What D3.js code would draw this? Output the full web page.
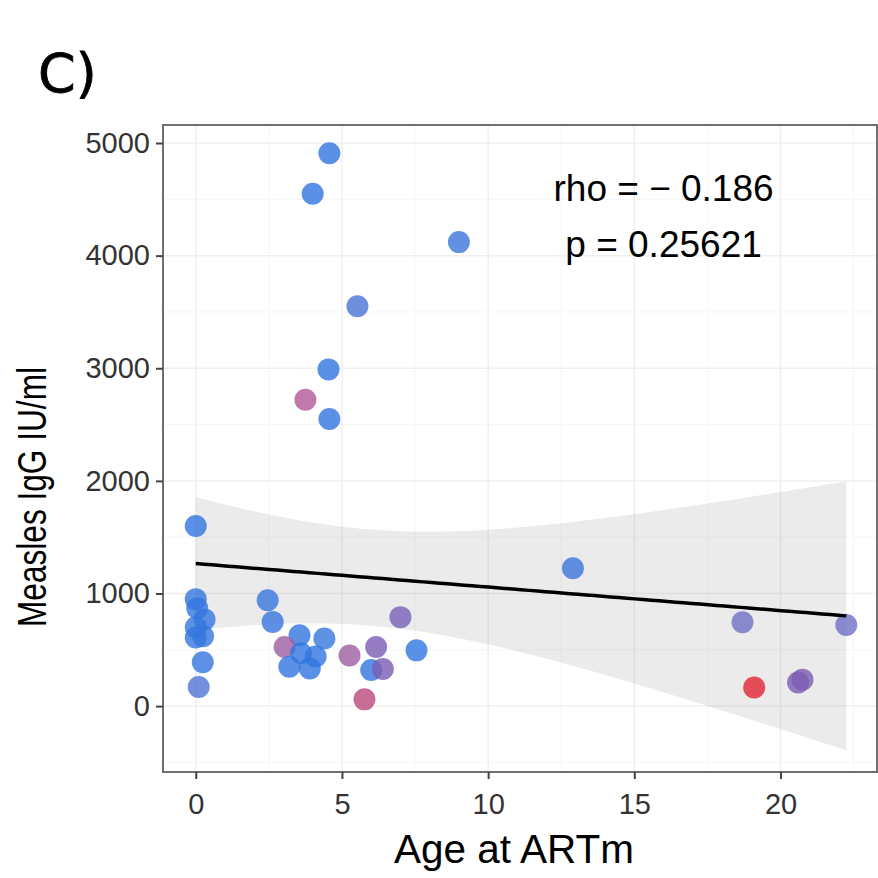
<!DOCTYPE html>
<html>
<head>
<meta charset="utf-8">
<script src="https://cdn.jsdelivr.net/npm/d3@7"></script>
<style>
  html, body { margin: 0; padding: 0; background: #fff; }
  svg { display: block; font-family: "Liberation Sans", Arial, Helvetica, sans-serif; }
</style>
</head>
<body>
<svg id="chart" width="878" height="878"></svg>
<script>
// ---- data ----
const ageART = [0, 4.57, 4.0, 9.0, 5.53, 4.54, 3.75, 4.57, 12.9, 18.7, 22.25, 19.1, 20.6, 20.75,
  0, 0.05, 0.3, 0, 0.25, 0, 0.24, 0.1,
  2.46, 2.63, 3.55, 4.4, 3.04, 3.6, 4.1, 3.2, 3.9, 5.26, 6.17, 6.0, 6.4, 7.0, 7.55, 5.77];
const measlesIgG = [1600, 4910, 4550, 4120, 3550, 2990, 2720, 2550, 1225, 745, 720, 165, 210, 235,
  950, 870, 770, 700, 620, 610, 390, 170,
  940, 748, 630, 600, 525, 470, 440, 350, 335, 450, 525, 320, 330, 790, 495, 60];
const colourVar = [0, 0, 0, 0.05, 0.12, 0, 0.62, 0, 0.05, 0.3, 0.3, 1.0, 0.45, 0.45,
  0.02, 0.02, 0.02, 0.02, 0.02, 0.02, 0.02, 0.15,
  0.03, 0.03, 0, 0.03, 0.55, 0, 0, 0, 0, 0.55, 0.45, 0, 0.45, 0.42, 0, 0.7];
const xTicks = [0, 5, 10, 15, 20];
const yTicks = [0, 1000, 2000, 3000, 4000, 5000];
const xMinor = [2.5, 7.5, 12.5, 17.5, 22.5];
const yMinor = [-500, 500, 1500, 2500, 3500, 4500];
const xDomain = [-1.12, 23.3];
const yDomain = [-585, 5160];
const annotation = ["rho = \u2212 0.186", "p = 0.25621"];
const annotationX = [16, 16];
const annotationY = [4600, 4100];
const panelLabel = "C)";
const xTitle = "Age at ARTm";
const yTitle = "Measles IgG IU/ml";
const tCrit = 2.0281; // t quantile 0.975, df = n - 2 = 36

// ---- layout / style ----
const svg = d3.select("#chart");
const L = 163, R = 877, T = 125, B = 772;
const x = d3.scaleLinear().domain(xDomain).range([L, R]);
const y = d3.scaleLinear().domain(yDomain).range([B, T]);
const col = d3.scaleLinear()
  .domain([0, 0.3, 0.45, 0.6, 0.7, 1])
  .range(["#3176e0", "#6f6fc7", "#7c5cb4", "#ae5c9b", "#ba4a7c", "#e22433"]);

const pts = ageART.map((a, i) => ({x: a, y: measlesIgG[i], c: colourVar[i]}));

// grid
const g = svg.append("g");
g.selectAll(".gminx").data(xMinor.filter(v => v > xDomain[0] && v < xDomain[1])).join("line")
  .attr("x1", d => x(d)).attr("x2", d => x(d)).attr("y1", T).attr("y2", B)
  .attr("stroke", "#f6f6f6").attr("stroke-width", 1);
g.selectAll(".gminy").data(yMinor.filter(v => v > yDomain[0] && v < yDomain[1])).join("line")
  .attr("y1", d => y(d)).attr("y2", d => y(d)).attr("x1", L).attr("x2", R)
  .attr("stroke", "#f6f6f6").attr("stroke-width", 1);
g.selectAll(".gmajx").data(xTicks).join("line")
  .attr("x1", d => x(d)).attr("x2", d => x(d)).attr("y1", T).attr("y2", B)
  .attr("stroke", "#efefef").attr("stroke-width", 1.5);
g.selectAll(".gmajy").data(yTicks).join("line")
  .attr("y1", d => y(d)).attr("y2", d => y(d)).attr("x1", L).attr("x2", R)
  .attr("stroke", "#efefef").attr("stroke-width", 1.5);

// linear fit + 95% CI
const n = pts.length;
const mx = d3.mean(pts, d => d.x), my = d3.mean(pts, d => d.y);
const sxx = d3.sum(pts, d => (d.x - mx) ** 2);
const sxy = d3.sum(pts, d => (d.x - mx) * (d.y - my));
const slope = sxy / sxx, icpt = my - slope * mx;
const sse = d3.sum(pts, d => (d.y - (icpt + slope * d.x)) ** 2);
const s = Math.sqrt(sse / (n - 2));
const xmin = d3.min(pts, d => d.x), xmax = d3.max(pts, d => d.x);
const grid = d3.range(0, 81).map(k => xmin + (xmax - xmin) * k / 80);
const band = grid.map(xv => {
  const fit = icpt + slope * xv;
  const se = s * Math.sqrt(1 / n + (xv - mx) ** 2 / sxx);
  return {x: xv, fit, lo: fit - tCrit * se, hi: fit + tCrit * se};
});
svg.append("path").datum(band)
  .attr("d", d3.area().x(d => x(d.x)).y0(d => y(d.lo)).y1(d => y(d.hi)))
  .attr("fill", "#999999").attr("fill-opacity", 0.2);

// points
svg.append("g").selectAll("circle").data(pts).join("circle")
  .attr("cx", d => x(d.x)).attr("cy", d => y(d.y)).attr("r", 11)
  .attr("fill", d => col(d.c)).attr("fill-opacity", 0.8);

// fit line
svg.append("path").datum(band)
  .attr("d", d3.line().x(d => x(d.x)).y(d => y(d.fit)))
  .attr("fill", "none").attr("stroke", "#000").attr("stroke-width", 3.5);

// annotation
svg.append("g").selectAll("text").data(annotation).join("text")
  .attr("x", (d, i) => x(annotationX[i])).attr("y", (d, i) => y(annotationY[i]))
  .attr("dy", "0.35em").attr("text-anchor", "middle")
  .attr("font-size", 37).attr("fill", "#000").text(d => d);

// panel border
svg.append("rect").attr("x", L).attr("y", T).attr("width", R - L).attr("height", B - T)
  .attr("fill", "none").attr("stroke", "#6f6f6f").attr("stroke-width", 2);

// axes
const xAxis = svg.append("g").attr("transform", `translate(0,${B})`)
  .call(d3.axisBottom(x).tickValues(xTicks).tickSize(7).tickPadding(14).tickFormat(d3.format("d")));
const yAxis = svg.append("g").attr("transform", `translate(${L},0)`)
  .call(d3.axisLeft(y).tickValues(yTicks).tickSize(7).tickPadding(6).tickFormat(d3.format("d")));
[xAxis, yAxis].forEach(a => {
  a.select(".domain").remove();
  a.selectAll(".tick line").attr("stroke", "#444").attr("stroke-width", 2);
  a.selectAll(".tick text").attr("fill", "#333").attr("font-size", 29)
    .attr("font-family", "'Liberation Sans', Arial, sans-serif");
});

// titles
svg.append("text").attr("x", 514).attr("y", 863).attr("text-anchor", "middle")
  .attr("font-size", 40).attr("fill", "#000")
  .attr("textLength", 240).attr("lengthAdjust", "spacingAndGlyphs").text(xTitle);
svg.append("text").attr("transform", `translate(46,497) rotate(-90)`)
  .attr("text-anchor", "middle").attr("font-size", 40).attr("fill", "#000")
  .attr("textLength", 260).attr("lengthAdjust", "spacingAndGlyphs").text(yTitle);
svg.append("text").attr("x", 38).attr("y", 92).attr("font-size", 54).attr("fill", "#000")
  .attr("stroke", "#000").attr("stroke-width", 0.8)
  .attr("font-family", "'DejaVu Sans', sans-serif").text(panelLabel);
</script>
</body>
</html>
